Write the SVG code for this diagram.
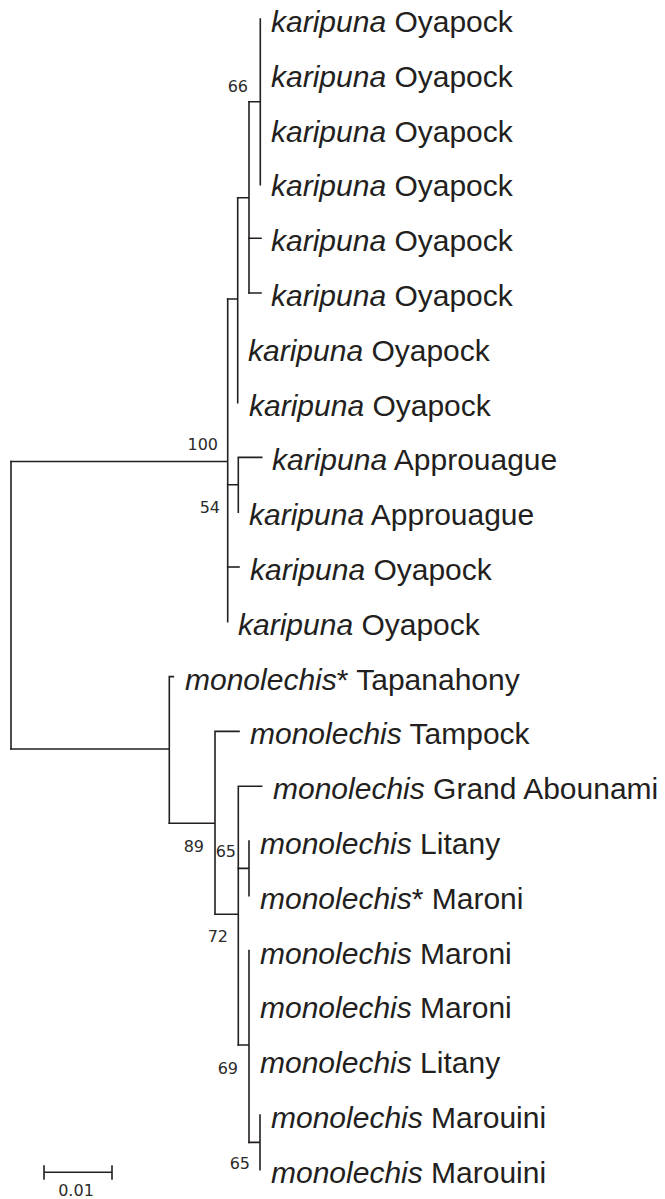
<svg xmlns="http://www.w3.org/2000/svg" width="665" height="1199" viewBox="0 0 665 1199">
<style>
.tx{font-family:"Liberation Sans",Arial,sans-serif;font-size:30px;fill:#231f20}
.it{font-style:italic}
.bs{font-family:"DejaVu Sans",Verdana,sans-serif;font-size:16px;fill:#2b2b2b;text-anchor:end}
.br{fill:none;stroke:#231f20;stroke-width:1.6;stroke-linecap:square}
</style>
<rect width="665" height="1199" fill="#fff"/>
<g id="connectors" class="br">
<path d="M11,461.5V749"/>
<path d="M11,461.5H227.7V299M227.7,461.5V621.8"/>
<path d="M227.7,299H237.7V197.7M237.7,299V402.6"/>
<path d="M237.7,197.7H249V101.8M249,197.7V293"/>
<path d="M249,101.8H260.3V19M260.3,101.8V184.6"/>
<path d="M249,238.2H261M249,293H261"/>
<path d="M227.7,567H239"/>
<path d="M227.7,484.8H238.3V457.4M238.3,484.8V512.2M238.3,457.4H261.7"/>
<path d="M11,749H169.3V676.6M169.3,749V823.3M169.3,676.6H173.3"/>
<path d="M169.3,823.3H215V731.4M215,823.3V914.3M215,731.4H239"/>
<path d="M215,914.3H238.3V786.2M238.3,914.3V1045M238.3,786.2H261.7"/>
<path d="M238.3,868.4H249V841M249,868.4V895.8"/>
<path d="M238.3,1045H249V950.6M249,1045V1142.4"/>
<path d="M249,1142.4H260V1115M260,1142.4V1169.8"/>
</g>
<g id="bootstrap">
<text class="bs" x="248" y="92">66</text>
<text class="bs" x="218" y="450">100</text>
<text class="bs" x="220" y="513">54</text>
<text class="bs" x="204" y="852">89</text>
<text class="bs" x="236" y="857">65</text>
<text class="bs" x="228" y="942">72</text>
<text class="bs" x="238" y="1074">69</text>
<text class="bs" x="250" y="1169">65</text>
</g>
<g id="t1"><text class="tx" x="271" y="32"><tspan class="it">karipuna</tspan> Oyapock</text></g>
<g id="t2"><text class="tx" x="271" y="86.8"><tspan class="it">karipuna</tspan> Oyapock</text></g>
<g id="t3"><text class="tx" x="271" y="141.6"><tspan class="it">karipuna</tspan> Oyapock</text></g>
<g id="t4"><text class="tx" x="271" y="196.4"><tspan class="it">karipuna</tspan> Oyapock</text></g>
<g id="t5"><text class="tx" x="271" y="251.2"><tspan class="it">karipuna</tspan> Oyapock</text></g>
<g id="t6"><text class="tx" x="271" y="306"><tspan class="it">karipuna</tspan> Oyapock</text></g>
<g id="t7"><text class="tx" x="248" y="360.8"><tspan class="it">karipuna</tspan> Oyapock</text></g>
<g id="t8"><text class="tx" x="249" y="415.6"><tspan class="it">karipuna</tspan> Oyapock</text></g>
<g id="t9"><text class="tx" x="272" y="470.4"><tspan class="it">karipuna</tspan> Approuague</text></g>
<g id="t10"><text class="tx" x="249" y="525.2"><tspan class="it">karipuna</tspan> Approuague</text></g>
<g id="t11"><text class="tx" x="250" y="580"><tspan class="it">karipuna</tspan> Oyapock</text></g>
<g id="t12"><text class="tx" x="238" y="634.8"><tspan class="it">karipuna</tspan> Oyapock</text></g>
<g id="t13"><text class="tx" x="185" y="689.6"><tspan class="it">monolechis</tspan>* Tapanahony</text></g>
<g id="t14"><text class="tx" x="250" y="744.4"><tspan class="it">monolechis</tspan> Tampock</text></g>
<g id="t15"><text class="tx" x="273" y="799.2"><tspan class="it">monolechis</tspan> Grand Abounami</text></g>
<g id="t16"><text class="tx" x="260" y="854"><tspan class="it">monolechis</tspan> Litany</text></g>
<g id="t17"><text class="tx" x="260" y="908.8"><tspan class="it">monolechis</tspan>* Maroni</text></g>
<g id="t18"><text class="tx" x="260" y="963.6"><tspan class="it">monolechis</tspan> Maroni</text></g>
<g id="t19"><text class="tx" x="260" y="1018.4"><tspan class="it">monolechis</tspan> Maroni</text></g>
<g id="t20"><text class="tx" x="260" y="1073.2"><tspan class="it">monolechis</tspan> Litany</text></g>
<g id="t21"><text class="tx" x="271" y="1128"><tspan class="it">monolechis</tspan> Marouini</text></g>
<g id="t22"><text class="tx" x="271" y="1182.8"><tspan class="it">monolechis</tspan> Marouini</text></g>
<g id="scale">
<path class="br" d="M44,1172.3H112M44,1166V1179M112,1166V1179"/>
<text class="bs" x="76" y="1196" style="text-anchor:middle">0.01</text>
</g>
</svg>
